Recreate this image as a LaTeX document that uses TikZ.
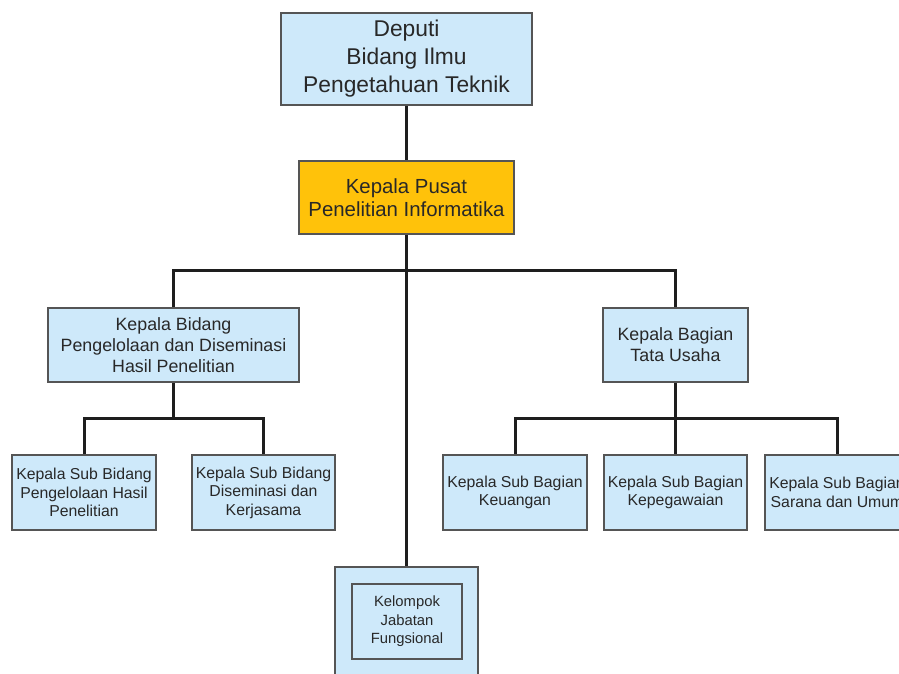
\documentclass[tikz,border=0pt]{standalone}
\usepackage{fontspec}
\setmainfont{Liberation Sans}
\definecolor{boxblue}{RGB}{206,233,250}
\definecolor{boxorange}{RGB}{255,194,10}
\definecolor{boxline}{RGB}{85,85,85}
\definecolor{txt}{RGB}{40,40,40}
\definecolor{conn}{RGB}{30,30,30}
\tikzset{
  orgbox/.style={draw=boxline, line width=1.8pt, fill=boxblue, text=txt, align=center, inner sep=0pt},
  topbox/.style={orgbox, font=\fontsize{22.8}{28}\selectfont},
  headbox/.style={orgbox, fill=boxorange, font=\fontsize{20.4}{23}\selectfont},
  midbox/.style={orgbox, font=\fontsize{17.8}{21}\selectfont},
  subbox/.style={orgbox, font=\fontsize{15.8}{18.5}\selectfont},
  inbox/.style={orgbox, font=\fontsize{14.8}{18.5}\selectfont},
  link/.style={draw=conn, line width=3pt}
}
\begin{document}
\begin{tikzpicture}[x=1pt,y=-1pt]
\clip (0,0) rectangle (899,673);
\useasboundingbox (0,0) rectangle (899,673);
\fill[white] (0,0) rectangle (899,673);
% boxes
\node[topbox, minimum width=251pt, minimum height=92pt] (dep) at (406.5,59) {Deputi\\Bidang Ilmu\\Pengetahuan Teknik};
\node[headbox, minimum width=215pt, minimum height=73pt] (pus) at (406.5,197.5) {Kepala Pusat\\Penelitian Informatika};
\node[midbox, minimum width=251pt, minimum height=74pt] (bid) at (173.5,345) {Kepala Bidang\\Pengelolaan dan Diseminasi\\Hasil Penelitian};
\node[midbox, minimum width=145pt, minimum height=74pt] (bag) at (675.5,345) {Kepala Bagian\\Tata Usaha};
\node[subbox, minimum width=144pt, minimum height=75pt] (sb1) at (84,492.5) {Kepala Sub Bidang\\Pengelolaan Hasil\\Penelitian};
\node[subbox, minimum width=143pt, minimum height=75pt] (sb2) at (263.5,492.5) {Kepala Sub Bidang\\Diseminasi dan\\Kerjasama};
\node[subbox, minimum width=144pt, minimum height=75pt] (sg1) at (515,492.5) {Kepala Sub Bagian\\Keuangan};
\node[subbox, minimum width=143pt, minimum height=75pt] (sg2) at (675.5,492.5) {Kepala Sub Bagian\\Kepegawaian};
\node[subbox, minimum width=144pt, minimum height=75pt] (sg3) at (837,492.5) {Kepala Sub Bagian\\Sarana dan Umum};
\node[orgbox, minimum width=143pt, minimum height=130pt] (kel) at (406.5,632) {};
\node[inbox, minimum width=110pt, minimum height=75pt] (kin) at (407,621.5) {Kelompok\\Jabatan\\Fungsional};
% junctions
\coordinate (j1) at (406.5,270);
\coordinate (j2) at (173.5,418);
\coordinate (j3) at (675.5,418);
% connectors
\draw[link] (dep.south) -- (pus.north);
\draw[link] (pus.south) -- (kel.north);
\draw[link] (bid.north) |- (j1) -| (bag.north);
\draw[link] (bid.south) -- (j2);
\draw[link] (sb1.north) |- (j2) -| (sb2.north);
\draw[link] (bag.south) -- (sg2.north);
\draw[link] (sg1.north) |- (j3) -| (sg3.north);
\end{tikzpicture}
\end{document}
